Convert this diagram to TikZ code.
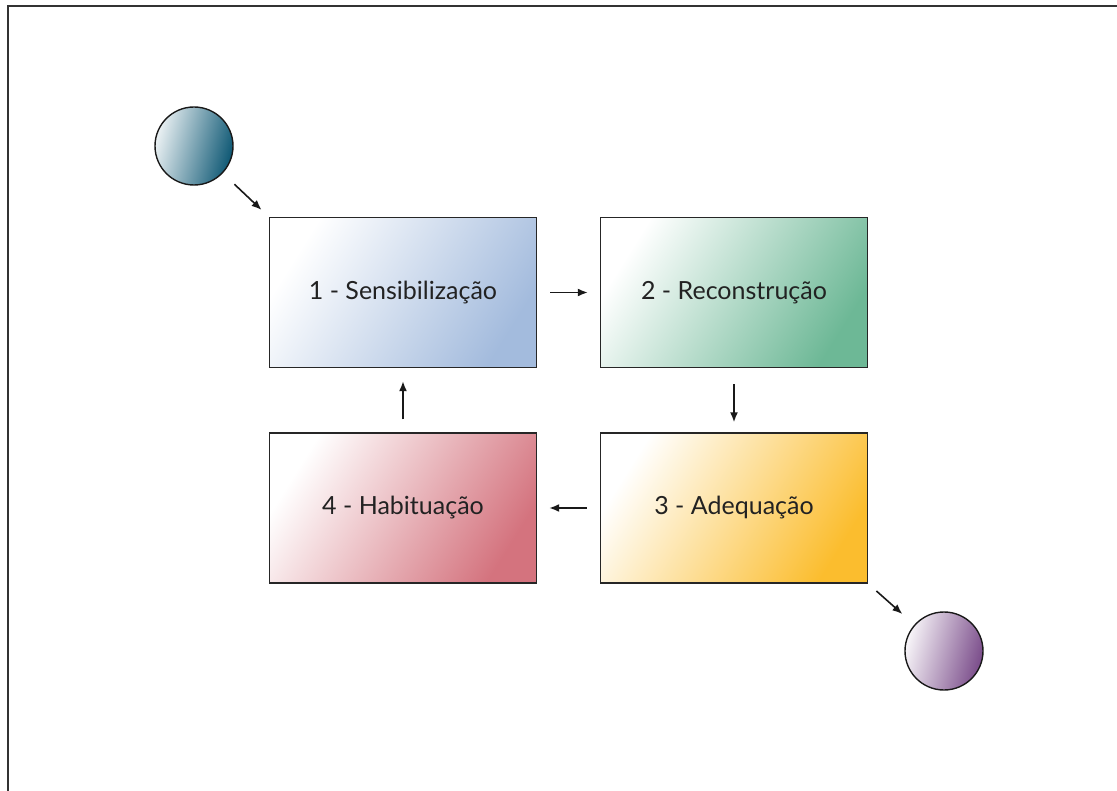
\documentclass[tikz,border=0pt]{standalone}
\usepackage{fontspec}
\setmainfont{Lato}
\usetikzlibrary{arrows.meta}
\definecolor{bluebox}{HTML}{A3BBDD}
\definecolor{greenbox}{HTML}{6DB896}
\definecolor{yellowbox}{HTML}{FBBD2E}
\definecolor{redbox}{HTML}{D4737E}
\definecolor{tealdot}{HTML}{0E5874}
\definecolor{purpledot}{HTML}{7A4C8A}
\definecolor{txt}{HTML}{222222}
\tikzset{
  stagebox/.style={draw=black!85, line width=1.4pt, minimum width=267pt, minimum height=150pt,
    inner sep=0pt, font=\fontsize{25}{30}\selectfont, text=txt},
  enddot/.style={circle, draw=black!90, line width=1.4pt, minimum size=78pt, inner sep=0pt},
  flow/.style={-{Latex[length=10pt,width=8pt]}, line width=1.6pt, black!90}
}
\begin{document}
\begin{tikzpicture}[x=1pt,y=-1pt]
\useasboundingbox (0,0) rectangle (1117,791);
\draw[line width=2pt, black!80] (8,791) -- (8,6) -- (1117,6);
\node[stagebox, left color=white, right color=bluebox, shading angle=58] (b1) at (403,292.5) {1 - Sensibilização};
\node[stagebox, left color=white, right color=greenbox, shading angle=58] (b2) at (734,292.5) {2 - Reconstrução};
\node[stagebox, left color=white, right color=yellowbox, shading angle=58] (b3) at (734,508) {3 - Adequação};
\node[stagebox, left color=white, right color=redbox, shading angle=58] (b4) at (403,508) {4 - Habituação};
\node[enddot, left color=tealdot!8, right color=tealdot, shading angle=75] (c1) at (194,146) {};
\node[enddot, left color=purpledot!5, right color=purpledot, shading angle=75] (c2) at (944,651) {};
\draw[flow, shorten <=16pt, shorten >=10pt] (c1) -- (b1.north west);
\draw[flow, shorten <=13pt, shorten >=12pt] (b1) -- (b2);
\draw[flow, shorten <=16pt, shorten >=10pt] (b2) -- (b3);
\draw[flow, shorten <=13pt, shorten >=12pt] (b3) -- (b4);
\draw[flow, shorten <=13pt, shorten >=13pt] (b4) -- (b1);
\draw[flow, shorten <=11pt, shorten >=16pt] (b3.south east) -- (c2);
\end{tikzpicture}
\end{document}
